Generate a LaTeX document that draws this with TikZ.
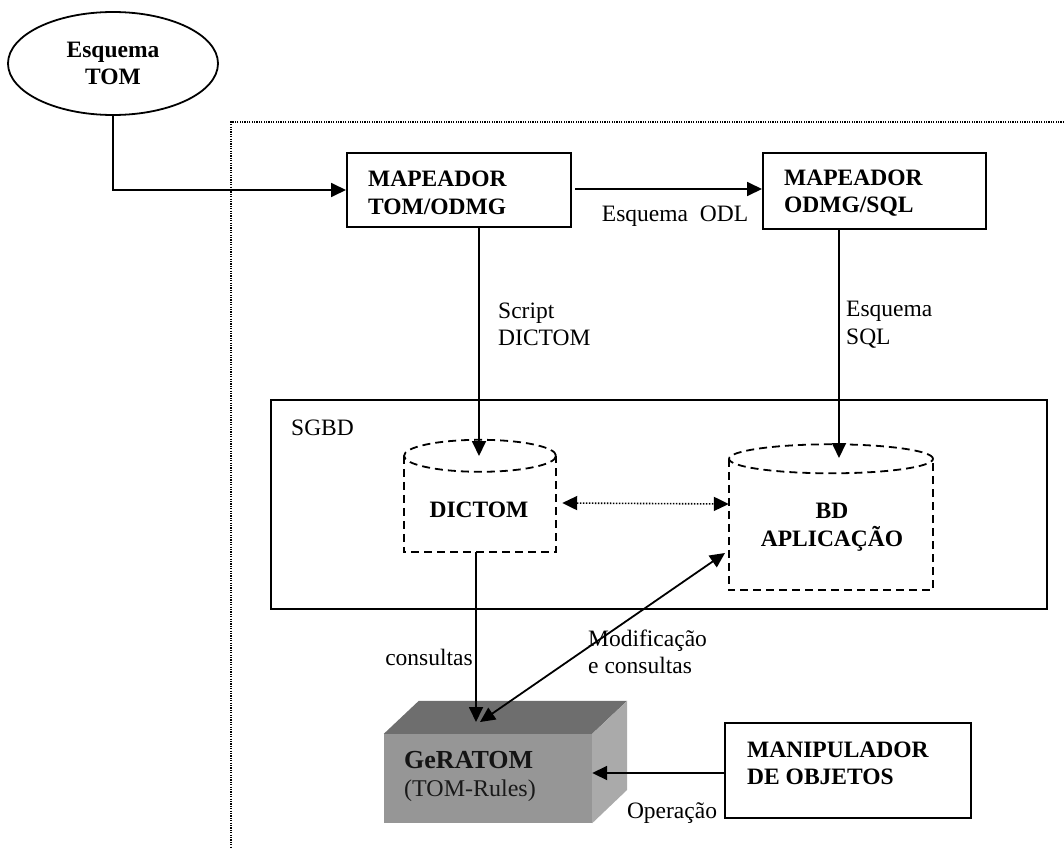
\documentclass[tikz,border=0pt]{standalone}
\usepackage{fontspec}
\setmainfont{Liberation Serif}
\usetikzlibrary{arrows.meta,calc,shapes.geometric}
\definecolor{topface}{HTML}{6E6E6E}
\definecolor{frontface}{HTML}{969696}
\definecolor{sideface}{HTML}{AAAAAA}
\begin{document}
\begin{tikzpicture}[x=1pt,y=-1pt,
  txt/.style={font=\fontsize{23.5}{27.5}\selectfont, inner sep=0pt, align=left},
  btxt/.style={font=\fontsize{23.5}{27.5}\selectfont\bfseries, inner sep=0pt, align=left},
  box/.style={draw, line width=2pt, rectangle, inner sep=0pt},
  tip/.tip={Triangle[length=15pt,width=14pt]},
  arr/.style={line width=1.8pt, -tip},
  darr/.style={line width=1.8pt, tip-tip},
  cyl/.style={line width=1.8pt, dash pattern=on 8pt off 5pt},
  fine dots/.style={line width=1.5pt, dash pattern=on 1.2pt off 1.2pt},
]
\useasboundingbox (0,0) rectangle (1064,848);

% system boundary (dotted, open to the right and bottom)
\draw[fine dots] (1064,122) -- (231,122) -- (231,848);

% input schema
\node[ellipse, draw, line width=1.8pt, minimum width=210pt, minimum height=103pt,
      btxt, align=center] (esq) at (113,63.5) {Esquema\\TOM};

% mappers
\node[box, minimum width=224pt, minimum height=74pt] (tom) at (459,190) {};
\node[btxt, anchor=west] (tomtxt) at (368,193) {MAPEADOR\\TOM/ODMG};
\node[box, minimum width=223pt, minimum height=76pt] (odmg) at (874.5,191) {};
\node[btxt, anchor=west] (odmgtxt) at (784,193) {MAPEADOR\\ODMG/SQL};

% DBMS frame
\node[box, minimum width=776pt, minimum height=209pt] (sgbd) at (659,504.5) {};
\node[txt, anchor=west] (sgbdtxt) at (291,428) {SGBD};

% DICTOM cylinder
\node[inner sep=0pt, minimum width=152pt, minimum height=96pt] (dictom) at (480,504) {};
\draw[cyl] (dictom.north west) -- (dictom.south west) -- (dictom.south east) -- (dictom.north east);
\draw[cyl] (dictom.north) ellipse [x radius=76pt, y radius=16pt];
\node[btxt] (dictomtxt) at (479,510) {DICTOM};

% application database cylinder
\node[inner sep=0pt, minimum width=204pt, minimum height=131pt] (bd) at (831,524.5) {};
\draw[cyl] (bd.north west) -- (bd.south west) -- (bd.south east) -- (bd.north east);
\draw[cyl] (bd.north) ellipse [x radius=102pt, y radius=14.5pt];
\node[btxt, align=center] (bdtxt) at (832,527) {BD\\APLICAÇÃO};

% GeRATOM block
\node[fill=frontface, inner sep=0pt, minimum width=208pt, minimum height=89pt] (ger) at (488,778.5) {};
\fill[topface] (ger.north west) -- ++(35,-33) -- ($(ger.north east)+(35,-33)$) -- (ger.north east) -- cycle;
\fill[sideface] (ger.north east) -- ++(35,-33) -- ++(0,89) -- (ger.south east) -- cycle;
\node[font=\fontsize{26}{30}\selectfont\bfseries, inner sep=0pt, anchor=west, text=black!92] (gertxt) at (404,760) {GeRATOM};
\node[font=\fontsize{24}{30}\selectfont, inner sep=0pt, anchor=west, text=black!90] (gersub) at (404,791) {(TOM-Rules)};

% object manipulator
\node[box, minimum width=246pt, minimum height=95pt] (man) at (848,770.5) {};
\node[btxt, anchor=west] (mantxt) at (747,763.5) {MANIPULADOR\\DE OBJETOS};

% connector end points
\coordinate (dictomin) at (479,456);
\coordinate (bdin) at (839,458);
\coordinate (gerq) at (476,722);
\coordinate (germ) at (480,722);
\coordinate (bdside) at (725,553);

% connectors
\draw[arr] (esq.south) |- (tom.west);
\draw[arr] ($(tom.east)+(3,-1)$) -- (odmg.west |- 0,189);
\draw[arr] (tom.south -| dictomin) -- (dictomin);
\draw[arr] (odmg.south -| bdin) -- (bdin);
\draw[line width=1.6pt, dash pattern=on 1.5pt off 1.5pt, tip-tip]
  ($(dictom.east)+(6,-1)$) -- (dictom.east -| bd.west);
\draw[arr] (dictom.south -| gerq) -- (gerq);
\draw[darr] (germ) -- (bdside);
\draw[arr] (man.west |- 0,773) -- (ger.east |- 0,773);

% connector labels
\node[txt] (odl) at (675,216) {Esquema\ \ ODL};
\node[txt, anchor=west] (script) at (498,324.5) {Script\\DICTOM};
\node[txt, anchor=west] (sqllbl) at (846,324.5) {Esquema\\SQL};
\node[txt] (cons) at (429,657) {consultas};
\node[txt, anchor=west] (modif) at (588,652) {Modificação\\e consultas};
\node[txt] (oper) at (672,813) {Operação};
\end{tikzpicture}
\end{document}
